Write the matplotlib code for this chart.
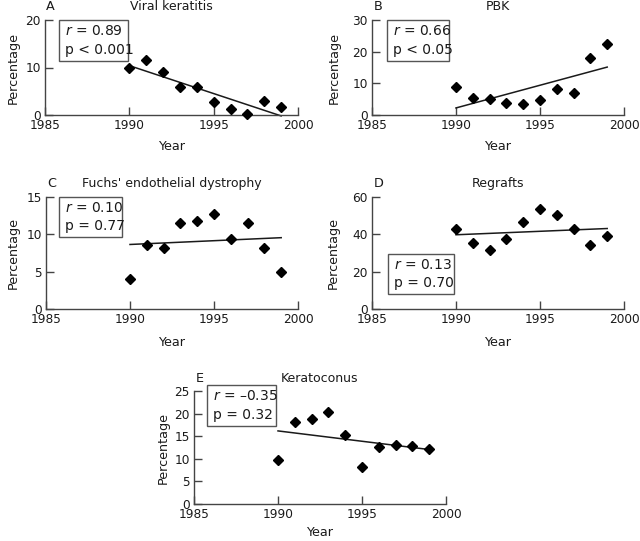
import numpy as np
import matplotlib
matplotlib.use("Agg")
import matplotlib.pyplot as plt
from matplotlib.patches import Rectangle

plt.rcParams['font.family'] = ['DejaVu Sans']
plt.rcParams['mathtext.fontset'] = 'dejavusans'

years = [1990, 1991, 1992, 1993, 1994, 1995, 1996, 1997, 1998, 1999]

viral = [10.0, 11.5, 8.95, 5.8, 5.8, 2.7, 1.3, 0.2, 3.0, 1.75]
pbk = [8.75, 5.4, 5.0, 3.85, 3.4, 4.7, 8.2, 6.9, 18.1, 22.5]
fuchs = [4.07, 8.6, 8.2, 11.5, 11.8, 12.7, 9.4, 11.5, 8.2, 5.0]
regrafts = [43.0, 35.2, 31.7, 37.5, 46.4, 53.8, 50.6, 42.7, 34.2, 39.3]
kerato = [9.8, 18.2, 18.8, 20.25, 15.3, 8.15, 12.6, 13.0, 12.9, 12.1]

letters = ["A", "B", "C", "D", "E"]
titles = ["Viral keratitis", "PBK", "Fuchs' endothelial dystrophy", "Regrafts", "Keratoconus"]
r_text = ["0.89", "0.66", "0.10", "0.13", "\u20130.35"]
p_text = ["p < 0.001", "p < 0.05", "p = 0.77", "p = 0.70", "p = 0.32"]
series = [viral, pbk, fuchs, regrafts, kerato]
ymax = [20, 30, 15, 60, 25]
ystep = [10, 10, 5, 20, 5]
xticks = [1985, 1990, 1995, 2000]

W, H = 640, 541
fig = plt.figure(figsize=(W / 100, H / 100), dpi=100)

# axes pixel boxes: left, top, right, bottom
boxes_px = [(45, 20, 298, 115), (372, 20, 624, 115), (46, 197, 298, 309),
            (372, 197, 624, 309), (194, 391, 446, 504)]
# annotation boxes in pixels: left, top, right, bottom
ann_px = [(59, 20, 128, 61), (387, 20, 449, 61), (59, 197, 122, 237),
          (388, 254, 454, 294), (207, 385, 276, 426)]
ylab_x = [13, 334, 13, 333, 163]
xlab_y = [147, 147, 342, 342, 532]

ink = '#1a1a1a'
spine_c = '#444444'

for i in range(5):
    l, t, r, b = boxes_px[i]
    aw, ah = r - l, b - t
    ax = fig.add_axes([l / W, 1 - b / H, aw / W, ah / H])
    ax.set_xlim(1985, 2000)
    ax.set_ylim(0, ymax[i])
    for s in ['top', 'right']:
        ax.spines[s].set_visible(False)
    for s in ['left', 'bottom']:
        ax.spines[s].set_color(spine_c)
        ax.spines[s].set_linewidth(1.0)
    ax.set_xticks(xticks)
    ax.set_yticks(np.arange(0, ymax[i] + 0.1, ystep[i]))
    ax.tick_params(direction='in', length=6, width=1.0, color=spine_c,
                   labelsize=8.7, labelcolor=ink, pad=3)
    ax.patch.set_alpha(0)

    y = np.array(series[i])
    x = np.array(years)
    ax.plot(x, y, linestyle='none', marker='D', ms=5.5, color='black', clip_on=False, zorder=3)
    k, c0 = np.polyfit(x, y, 1)
    xl = np.array([x[0], x[-1]])
    ax.plot(xl, k * xl + c0, color=ink, lw=1.1, clip_on=False)

    # titles
    ax.text(0.005, 1 + 13 / ah, letters[i], transform=ax.transAxes, ha='left', va='center',
            fontsize=9.2, color=ink)
    ax.text(0.5, 1 + 13 / ah, titles[i], transform=ax.transAxes, ha='center', va='center',
            fontsize=9, color=ink)

    ax.set_ylabel("Percentage", fontsize=9.2, color=ink)
    ax.yaxis.label.set_va('center')
    ax.yaxis.set_label_coords(-(l - ylab_x[i]) / aw, 0.5)
    ax.set_xlabel("Year", fontsize=9.2, color=ink)
    ax.xaxis.label.set_va('center')
    ax.xaxis.set_label_coords(0.5, -(xlab_y[i] - b) / ah)

    # annotation box
    al, at, ar, ab = ann_px[i]
    x0 = (al - l) / aw
    y0 = (b - ab) / ah
    bw = (ar - al) / aw
    bh = (ab - at) / ah
    rect = Rectangle((x0, y0), bw, bh, transform=ax.transAxes, fill=False,
                     edgecolor='#555555', lw=1.0, clip_on=False)
    ax.add_patch(rect)
    tx = x0 + 6 / aw
    ax.text(tx, y0 + bh * 0.72, r"$r$ = " + r_text[i], transform=ax.transAxes,
            ha='left', va='center', fontsize=10, color=ink)
    ax.text(tx, y0 + bh * 0.28, p_text[i], transform=ax.transAxes,
            ha='left', va='center', fontsize=10, color=ink)

fig.savefig("out.png", dpi=100)
